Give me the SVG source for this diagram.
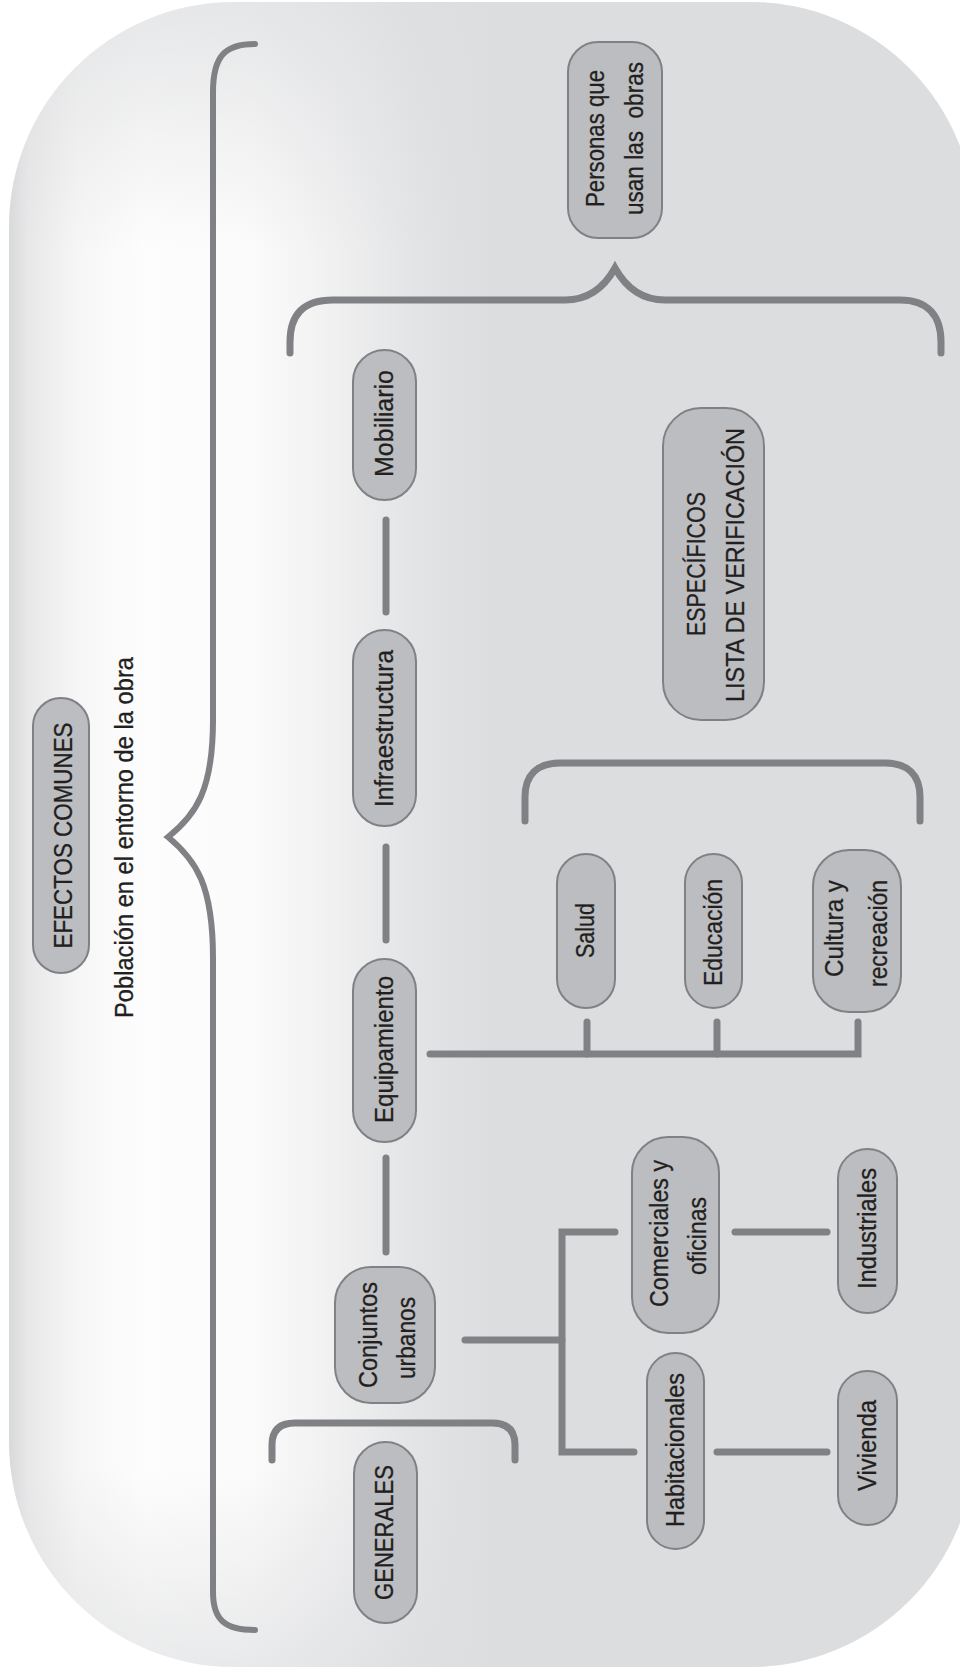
<svg xmlns="http://www.w3.org/2000/svg" width="960" height="1669" viewBox="0 0 960 1669">
<defs>
<linearGradient id="bgH" x1="9" y1="0" x2="975" y2="0" gradientUnits="userSpaceOnUse">
<stop offset="0" stop-color="#d8d9db"/>
<stop offset="0.02" stop-color="#e8e8e9"/>
<stop offset="0.07" stop-color="#f6f6f6"/>
<stop offset="0.14" stop-color="#fdfdfd"/>
<stop offset="0.25" stop-color="#fbfbfb"/>
<stop offset="0.33" stop-color="#f1f1f2"/>
<stop offset="0.42" stop-color="#e3e4e5"/>
<stop offset="0.5" stop-color="#dcdddf"/>
<stop offset="1" stop-color="#dcdddf"/>
</linearGradient>
<linearGradient id="bgV" x1="0" y1="0" x2="0" y2="1669" gradientUnits="userSpaceOnUse">
<stop offset="0" stop-color="#dcdddf" stop-opacity="0.7"/>
<stop offset="0.15" stop-color="#dcdddf" stop-opacity="0"/>
<stop offset="0.88" stop-color="#dcdddf" stop-opacity="0"/>
<stop offset="1" stop-color="#dcdddf" stop-opacity="0.6"/>
</linearGradient>
<style>
.node rect{fill:#bcbdc0;stroke:#808184;stroke-width:2}
.lbl{font-family:"Liberation Sans",Arial,sans-serif;font-size:26px;fill:#231f20;stroke:#231f20;stroke-width:0.3;text-anchor:middle}
.conn{fill:none;stroke:#808184;stroke-width:7;stroke-linecap:round;stroke-linejoin:miter}
.brace{fill:none;stroke:#808184;stroke-width:6;stroke-linecap:round}
</style>
</defs>
<rect width="960" height="1669" fill="#ffffff"/>
<rect x="9" y="2" width="966" height="1665" rx="225" ry="225" fill="url(#bgH)"/>
<rect x="9" y="2" width="966" height="1665" rx="225" ry="225" fill="url(#bgV)"/>

<g id="connectors">
<path class="brace" d="M255,44 C225,44 213,56 213,92 L213,720 C213,790 196,815 168,837 C196,860 213,885 213,958 L213,1592 C213,1620 225,1630 255,1630"/>
<path class="conn" d="M290,353 V342 C290,316 302,300 333,300 H565 C590,300 605,286 615,268 C625,286 640,300 665,300 H900 C928,300 941,316 941,342 V353"/>
<path class="conn" d="M525,821 V797 C525,775 537,763 560,763 H885 C908,763 920,775 920,797 V821"/>
<path class="conn" d="M272,1460 V1445 C272,1430 280,1423 295,1423 H492 C507,1423 515,1430 515,1445 V1460"/>
<path class="conn" d="M386,520 V612"/>
<path class="conn" d="M386,847 V940"/>
<path class="conn" d="M386,1158 V1252"/>
<path class="conn" d="M430,1054 H858 V1022"/>
<path class="conn" d="M587,1054 V1022"/>
<path class="conn" d="M717,1054 V1022"/>
<path class="conn" d="M465,1340 H562"/>
<path class="conn" d="M615,1232 H562 V1452 H634"/>
<path class="conn" d="M735,1232 H827"/>
<path class="conn" d="M717,1452 H827"/>
</g>

<g id="efectos" class="node">
<rect x="33" y="698" width="56" height="275" rx="28"/>
<text class="lbl" transform="translate(72,835.5) rotate(-90)" textLength="226" lengthAdjust="spacingAndGlyphs">EFECTOS COMUNES</text>
</g>
<g id="poblacion">
<text class="lbl" transform="translate(133,837.5) rotate(-90)" textLength="361" lengthAdjust="spacingAndGlyphs">Población en el entorno de la obra</text>
</g>
<g id="personas" class="node">
<rect x="568" y="42" width="94" height="196" rx="30"/>
<text class="lbl" transform="translate(604,138.5) rotate(-90)" textLength="137" lengthAdjust="spacingAndGlyphs">Personas que</text>
<text class="lbl" transform="translate(643,138.5) rotate(-90)" textLength="153" lengthAdjust="spacingAndGlyphs" xml:space="preserve">usan las  obras</text>
</g>
<g id="mobiliario" class="node">
<rect x="353" y="350" width="63" height="150" rx="31.5"/>
<text class="lbl" transform="translate(393,423.5) rotate(-90)" textLength="107" lengthAdjust="spacingAndGlyphs">Mobiliario</text>
</g>
<g id="infraestructura" class="node">
<rect x="353" y="630" width="63" height="196" rx="31.5"/>
<text class="lbl" transform="translate(393,728.5) rotate(-90)" textLength="157" lengthAdjust="spacingAndGlyphs">Infraestructura</text>
</g>
<g id="equipamiento" class="node">
<rect x="353" y="959" width="63" height="183" rx="31.5"/>
<text class="lbl" transform="translate(393,1049.5) rotate(-90)" textLength="147" lengthAdjust="spacingAndGlyphs">Equipamiento</text>
</g>
<g id="conjuntos" class="node">
<rect x="335" y="1267" width="100" height="136" rx="36"/>
<text class="lbl" transform="translate(377,1335) rotate(-90)" textLength="106" lengthAdjust="spacingAndGlyphs">Conjuntos</text>
<text class="lbl" transform="translate(415,1338) rotate(-90)" textLength="82" lengthAdjust="spacingAndGlyphs">urbanos</text>
</g>
<g id="generales" class="node">
<rect x="354" y="1442" width="63" height="181" rx="31.5"/>
<text class="lbl" transform="translate(393,1532.5) rotate(-90)" textLength="135" lengthAdjust="spacingAndGlyphs">GENERALES</text>
</g>
<g id="especificos" class="node">
<rect x="663" y="408" width="101" height="312" rx="38"/>
<text class="lbl" transform="translate(705,564) rotate(-90)" textLength="144" lengthAdjust="spacingAndGlyphs">ESPECÍFICOS</text>
<text class="lbl" transform="translate(744,565) rotate(-90)" textLength="274" lengthAdjust="spacingAndGlyphs">LISTA DE VERIFICACIÓN</text>
</g>
<g id="salud" class="node">
<rect x="557" y="854" width="58" height="154" rx="29"/>
<text class="lbl" transform="translate(594,930.5) rotate(-90)" textLength="55" lengthAdjust="spacingAndGlyphs">Salud</text>
</g>
<g id="educacion" class="node">
<rect x="685" y="854" width="57" height="154" rx="28.5"/>
<text class="lbl" transform="translate(722,932.5) rotate(-90)" textLength="107" lengthAdjust="spacingAndGlyphs">Educación</text>
</g>
<g id="cultura" class="node">
<rect x="813" y="850" width="88" height="162" rx="36"/>
<text class="lbl" transform="translate(843,928.5) rotate(-90)" textLength="97" lengthAdjust="spacingAndGlyphs">Cultura y</text>
<text class="lbl" transform="translate(887,933.5) rotate(-90)" textLength="107" lengthAdjust="spacingAndGlyphs">recreación</text>
</g>
<g id="comerciales" class="node">
<rect x="632" y="1137" width="87" height="196" rx="36"/>
<text class="lbl" transform="translate(668,1233.5) rotate(-90)" textLength="147" lengthAdjust="spacingAndGlyphs">Comerciales y</text>
<text class="lbl" transform="translate(706,1236) rotate(-90)" textLength="78" lengthAdjust="spacingAndGlyphs">oficinas</text>
</g>
<g id="industriales" class="node">
<rect x="838" y="1149" width="59" height="164" rx="29.5"/>
<text class="lbl" transform="translate(876,1228.5) rotate(-90)" textLength="121" lengthAdjust="spacingAndGlyphs">Industriales</text>
</g>
<g id="habitacionales" class="node">
<rect x="647" y="1353" width="57" height="196" rx="28.5"/>
<text class="lbl" transform="translate(684,1450) rotate(-90)" textLength="154" lengthAdjust="spacingAndGlyphs">Habitacionales</text>
</g>
<g id="vivienda" class="node">
<rect x="838" y="1371" width="59" height="154" rx="29.5"/>
<text class="lbl" transform="translate(876,1445.5) rotate(-90)" textLength="91" lengthAdjust="spacingAndGlyphs">Vivienda</text>
</g>
</svg>
